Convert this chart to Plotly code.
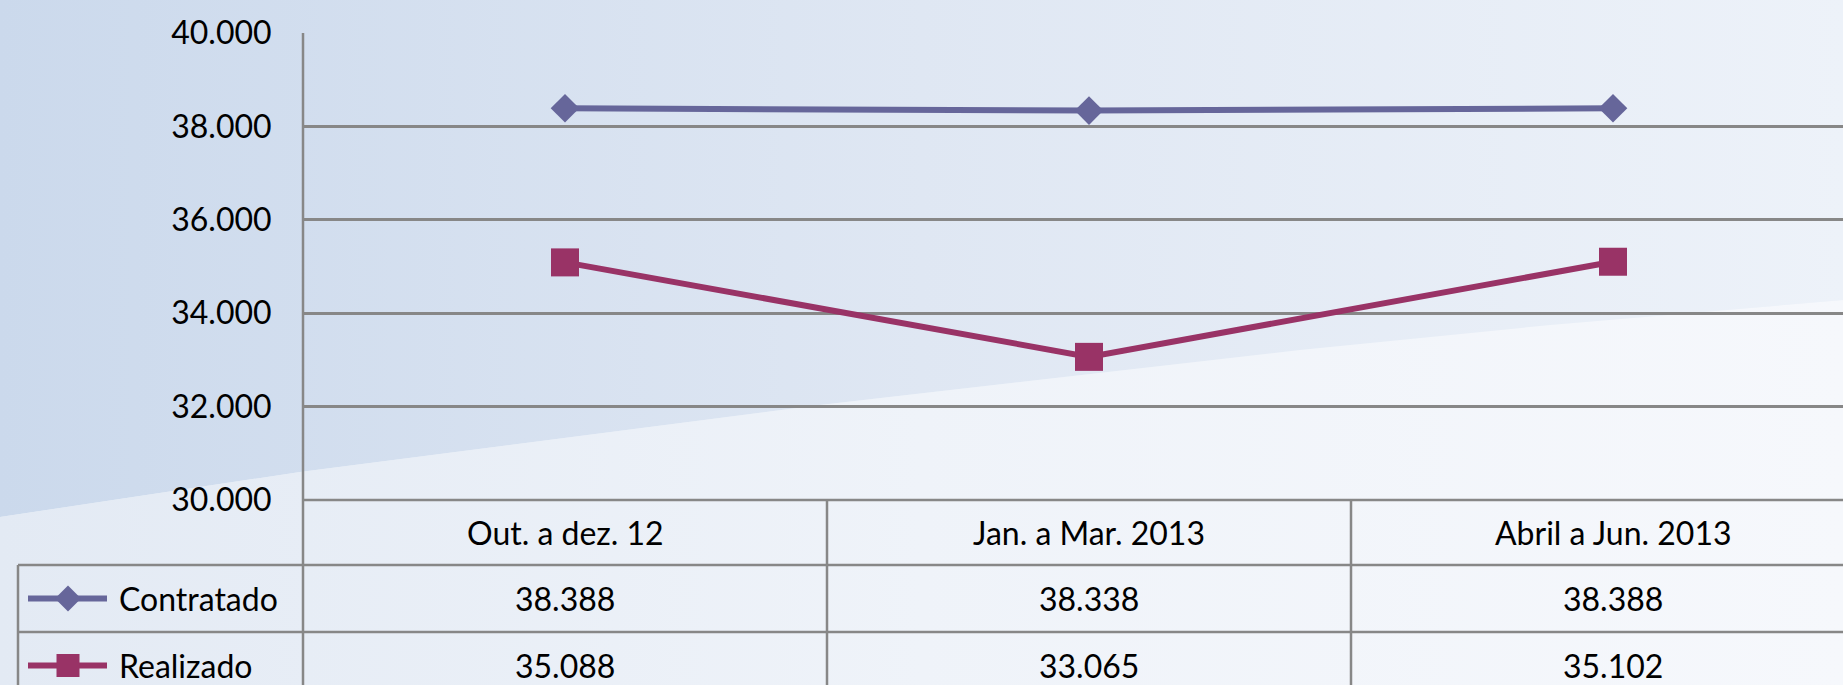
import plotly.graph_objects as go

# ---- data ----
categories = ["Out. a dez. 12", "Jan. a Mar. 2013", "Abril a Jun. 2013"]
contratado = [38388, 38338, 38388]
realizado = [35088, 33065, 35102]
contratado_labels = ["38.388", "38.338", "38.388"]
realizado_labels = ["35.088", "33.065", "35.102"]
series_names = ["Contratado", "Realizado"]
y_ticks = [30000, 32000, 34000, 36000, 38000, 40000]

# ---- styling / layout constants ----
W, H = 1843, 685
PLOT_L, PLOT_T, PLOT_B = 303, 33, 500
ROW1, ROW2, ROW3 = 565, 632, 699
TABLE_L = 18
CAT_W = 524.0
C_CON = "#66669a"
C_REA = "#993366"
GRID = "#878787"
FONT = "Lato"
FS = 32


def py(p):
    return 1 - p / H


x_idx = list(range(len(categories)))

fig = go.Figure()

# background (subplot x/y in pixel space)
upper = [(0, 0), (W, 0), (W, 300), (1550, 325), (1300, 350), (820, 405), (300, 472), (0, 517)]
lower = [(0, 517), (300, 472), (820, 405), (1300, 350), (1550, 325), (W, 300), (W, H), (0, H)]
for poly, cs in [(upper, [[0, "#cbd9ec"], [0.5, "#dfe7f3"], [1, "#edf2f9"]]),
                 (lower, [[0, "#e3eaf4"], [0.5, "#eff3f9"], [1, "#f6f8fc"]])]:
    fig.add_trace(go.Scatter(
        x=[p[0] for p in poly] + [poly[0][0]], y=[p[1] for p in poly] + [poly[0][1]],
        mode="lines", line=dict(width=0), fill="toself",
        fillgradient=dict(type="horizontal", colorscale=cs),
        xaxis="x", yaxis="y", hoverinfo="skip", showlegend=False))

# legend glyphs inside the table (pixel space)
leg_rows = [(ROW1 + ROW2) / 2, (ROW2 + ROW3) / 2]
for (name, col, sym, msz), ry in zip([("Contratado", C_CON, "diamond", 20), ("Realizado", C_REA, "square", 23)], leg_rows):
    fig.add_trace(go.Scatter(x=[28, 107], y=[ry, ry], mode="lines", line=dict(color=col, width=6),
                             xaxis="x", yaxis="y", hoverinfo="skip", showlegend=False))
    fig.add_trace(go.Scatter(x=[68], y=[ry], mode="markers", marker=dict(symbol=sym, size=msz, color=col),
                             xaxis="x", yaxis="y", hoverinfo="skip", showlegend=False))

# data traces
fig.add_trace(go.Scatter(x=x_idx, y=contratado, name="Contratado", mode="lines+markers",
                         line=dict(color=C_CON, width=6), marker=dict(symbol="diamond", size=22, color=C_CON),
                         xaxis="x2", yaxis="y2", showlegend=False))
fig.add_trace(go.Scatter(x=x_idx, y=realizado, name="Realizado", mode="lines+markers",
                         line=dict(color=C_REA, width=6), marker=dict(symbol="square", size=28, color=C_REA),
                         xaxis="x2", yaxis="y2", showlegend=False))

shapes = []
ln = dict(color=GRID, width=2.5)
shapes.append(dict(type="line", xref="paper", yref="paper", x0=PLOT_L / W, x1=PLOT_L / W,
                   y0=py(PLOT_T), y1=py(H + 5), line=ln, layer="above"))
shapes.append(dict(type="line", xref="paper", yref="paper", x0=PLOT_L / W, x1=1, y0=py(PLOT_B), y1=py(PLOT_B), line=ln))
for r in (ROW1, ROW2):
    shapes.append(dict(type="line", xref="paper", yref="paper", x0=TABLE_L / W, x1=1, y0=py(r), y1=py(r), line=ln))
shapes.append(dict(type="line", xref="paper", yref="paper", x0=TABLE_L / W, x1=TABLE_L / W,
                   y0=py(ROW1), y1=py(H + 5), line=ln))
for i in x_idx[:-1]:
    shapes.append(dict(type="line", xref="x2", yref="paper", x0=i + 0.5, x1=i + 0.5,
                       y0=py(PLOT_B), y1=py(H + 5), line=ln))

annotations = []
tf = dict(family=FONT, size=FS, color="black")
for i, c in enumerate(categories):
    annotations.append(dict(x=i, y=py((PLOT_B + ROW1) / 2), xref="x2", yref="paper", text=c,
                            showarrow=False, font=tf, xanchor="center", yanchor="middle"))
    annotations.append(dict(x=i, y=py(leg_rows[0]), xref="x2", yref="paper", text=contratado_labels[i],
                            showarrow=False, font=tf, xanchor="center", yanchor="middle"))
    annotations.append(dict(x=i, y=py(leg_rows[1]), xref="x2", yref="paper", text=realizado_labels[i],
                            showarrow=False, font=tf, xanchor="center", yanchor="middle"))
for name, ry in zip(series_names, leg_rows):
    annotations.append(dict(x=117 / W, y=py(ry), xref="paper", yref="paper", text=name,
                            showarrow=False, font=tf, xanchor="left", yanchor="middle"))

fig.update_layout(
    width=W, height=H, autosize=False,
    margin=dict(l=0, r=0, t=0, b=0, pad=0, autoexpand=False),
    paper_bgcolor="#e6edf6", plot_bgcolor="rgba(0,0,0,0)",
    separators=",.",
    font=dict(family=FONT, size=FS, color="black"),
    xaxis=dict(domain=[0, 1], range=[0, W], visible=False, fixedrange=True, automargin=False),
    yaxis=dict(domain=[0, 1], range=[H, 0], visible=False, fixedrange=True, automargin=False),
    xaxis2=dict(domain=[PLOT_L / W, 1], anchor="y2", range=[-0.5, -0.5 + (W - PLOT_L) / CAT_W],
                showgrid=False, zeroline=False, showticklabels=False, showline=False, ticks="",
                automargin=False),
    yaxis2=dict(domain=[py(PLOT_B), py(PLOT_T)], anchor="x2", range=[30000, 40000],
                tickvals=y_ticks, tickformat=",.0f", showgrid=True, gridcolor=GRID, gridwidth=2.5,
                zeroline=False, showline=False, ticks="outside", ticklen=24, automargin=False,
                tickcolor="rgba(0,0,0,0)", tickfont=dict(family=FONT, size=FS, color="black")),
    shapes=shapes, annotations=annotations, hovermode=False,
)

fig.write_html("out.html", config={"displayModeBar": False},
               post_script="document.body.style.margin='0';document.body.style.overflow='hidden';")
